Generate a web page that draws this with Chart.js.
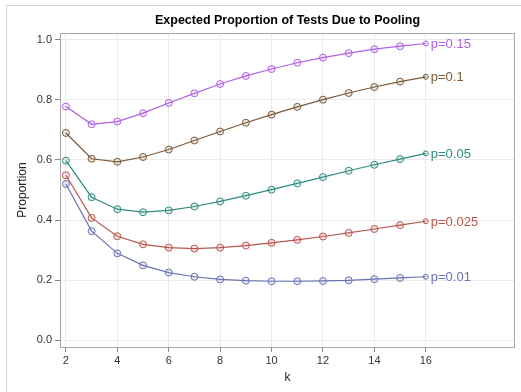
<!DOCTYPE html>
<html>
<head>
<meta charset="utf-8">
<script src="https://cdn.jsdelivr.net/npm/chart.js@4/dist/chart.umd.min.js"></script>
<style>
  html, body { margin: 0; padding: 0; background: #fff; }
  #wrap { position: relative; width: 521px; height: 392px; }
  #frame { position: absolute; left: 6px; top: 5px; width: 515px; height: 387px;
           border-left: 1px solid #d4d4d4; border-top: 1px solid #d4d4d4; box-sizing: border-box; }
  #chart { position: absolute; left: 0; top: 0; }
</style>
</head>
<body>
<div id="wrap">
  <div id="frame"></div>
  <canvas id="chart" width="521" height="392"></canvas>
</div>
<script>
// pool sizes
const kValues = [2,3,4,5,6,7,8,9,10,11,12,13,14,15,16];
const xTicks = [2,4,6,8,10,12,14,16];
const yTicks = [0,0.2,0.4,0.6,0.8,1.0];

const seriesNames = ["p=0.01","p=0.025","p=0.05","p=0.1","p=0.15"];
const p001 = [0.520,0.363,0.289,0.249,0.225,0.211,0.202,0.198,0.196,0.196,0.197,0.199,0.203,0.207,0.211];
const p0025 = [0.549,0.407,0.346,0.319,0.308,0.305,0.308,0.315,0.324,0.334,0.345,0.357,0.370,0.383,0.396];
const p005 = [0.598,0.476,0.436,0.426,0.432,0.445,0.462,0.481,0.501,0.522,0.543,0.564,0.584,0.603,0.622];
const p01 = [0.690,0.604,0.594,0.610,0.635,0.665,0.695,0.724,0.751,0.777,0.801,0.823,0.843,0.861,0.877];
const p015 = [0.778,0.719,0.728,0.756,0.790,0.822,0.853,0.880,0.903,0.924,0.941,0.956,0.969,0.979,0.988];
const allSeries = [p001,p0025,p005,p01,p015];
const colors = ["#6873b3","#b8564e","#2f8b7f","#7a5a3b","#b060e6"];

const FONT = "'Liberation Sans', Arial, sans-serif";

const datasets = allSeries.map(function(vals, i) {
  return {
    label: seriesNames[i],
    data: vals.map(function(v, j) { return {x: kValues[j], y: v}; }),
    borderColor: colors[i],
    backgroundColor: colors[i] + "33",
    borderWidth: 1.2,
    pointRadius: vals.map(function(v, j) { return j === vals.length - 1 ? 2.5 : 3.5; }),
    pointBorderWidth: 1,
    pointBackgroundColor: colors[i] + "22",
    pointBorderColor: colors[i],
    tension: 0
  };
});

// title, frame and end labels
const extras = {
  id: "extras",
  afterDraw(chart) {
    const ctx = chart.ctx;
    const a = chart.chartArea;
    ctx.save();
    ctx.strokeStyle = "#a8a8a8";
    ctx.lineWidth = 1;
    ctx.strokeRect(Math.round(a.left) + 0.5, Math.round(a.top) + 0.5,
                   Math.round(a.right - a.left) - 1, Math.round(a.bottom - a.top));
    ctx.fillStyle = "#000";
    ctx.font = "bold 12.5px " + FONT;
    ctx.textAlign = "center";
    ctx.textBaseline = "middle";
    ctx.fillText("Expected Proportion of Tests Due to Pooling", (a.left + a.right) / 2, 21);
    ctx.font = "13px " + FONT;
    ctx.textAlign = "left";
    chart.data.datasets.forEach(function(ds, i) {
      const meta = chart.getDatasetMeta(i);
      const pt = meta.data[meta.data.length - 1];
      ctx.fillStyle = colors[i];
      ctx.fillText(ds.label, pt.x + 5, pt.y + 1);
    });
    ctx.restore();
  }
};

new Chart(document.getElementById("chart"), {
  type: "line",
  data: { datasets: datasets },
  options: {
    responsive: false,
    animation: false,
    layout: { padding: { left: 0, top: 33, right: 6, bottom: 0 } },
    plugins: { legend: { display: false }, tooltip: { enabled: false } },
    scales: {
      x: {
        type: "linear",
        min: 1.77,
        max: 19.47,
        afterBuildTicks: function(scale) { scale.ticks = xTicks.map(function(v) { return {value: v}; }); },
        afterFit: function(scale) { scale.height = 45; },
        grid: { color: "#ebebeb", tickColor: "#888", tickLength: 5, drawTicks: true },
        border: { display: false },
        ticks: { color: "#333", font: { family: FONT, size: 11 }, padding: 2, maxRotation: 0,
                 callback: function(v) { return v; } },
        title: { display: true, text: "k", color: "#222", font: { family: FONT, size: 12 }, padding: { top: 0, bottom: 7 } }
      },
      y: {
        min: -0.023,
        max: 1.023,
        afterBuildTicks: function(scale) { scale.ticks = yTicks.map(function(v) { return {value: v}; }); },
        afterFit: function(scale) { scale.width = 60; },
        grid: { color: "#ebebeb", tickColor: "#888", tickLength: 5 },
        border: { display: false },
        ticks: { color: "#333", font: { family: FONT, size: 11 }, padding: 3,
                 callback: function(v) { return Number(v).toFixed(1); } },
        title: { display: true, text: "Proportion", color: "#222", font: { family: FONT, size: 12 }, padding: { top: 15, bottom: 0 } }
      }
    }
  },
  plugins: [extras]
});
</script>
</body>
</html>
